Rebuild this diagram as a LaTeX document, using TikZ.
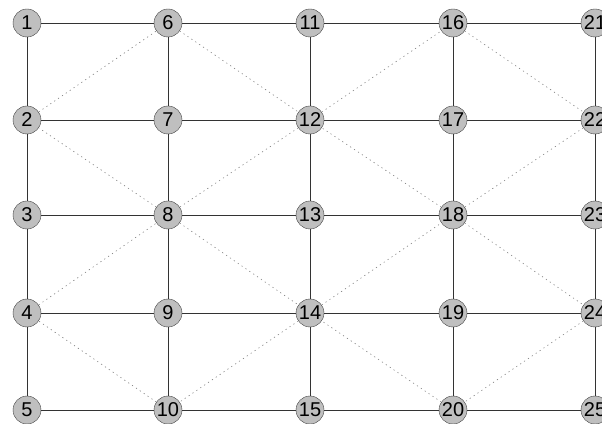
\documentclass[tikz,border=0pt]{standalone}
\usepackage{fontspec}
\setmainfont{Liberation Sans}
\usepackage{tikz}
\usetikzlibrary{arrows.meta, positioning, calc}

\begin{document}
\begin{tikzpicture}[
      x=1pt, y=1pt,
      every node/.style={circle, draw=black!75, fill=gray!50, inner sep=0pt,
        minimum size=28pt, font=\fontsize{20}{20}\selectfont},
      grid/.style={draw=black!80, line width=0.7pt},
      diag/.style={draw=gray, line width=0.6pt, dash pattern=on 1.2pt off 3.5pt}
    ]
      \useasboundingbox (0,0) rectangle (602,423);
      \node (n1) at (27,400) {1};
      \node (n2) at (27,303) {2};
      \node (n3) at (27,208) {3};
      \node (n4) at (27,110) {4};
      \node (n5) at (27,13) {5};
      \node (n6) at (168,400) {6};
      \node (n7) at (168,303) {7};
      \node (n8) at (168,208) {8};
      \node (n9) at (168,110) {9};
      \node (n10) at (168,13) {10};
      \node (n11) at (310,400) {11};
      \node (n12) at (310,303) {12};
      \node (n13) at (310,208) {13};
      \node (n14) at (310,110) {14};
      \node (n15) at (310,13) {15};
      \node (n16) at (453,400) {16};
      \node (n17) at (453,303) {17};
      \node (n18) at (453,208) {18};
      \node (n19) at (453,110) {19};
      \node (n20) at (453,13) {20};
      \node (n21) at (595,400) {21};
      \node (n22) at (595,303) {22};
      \node (n23) at (595,208) {23};
      \node (n24) at (595,110) {24};
      \node (n25) at (595,13) {25};
      % rows
      \draw[grid] (n1) -- (n6) -- (n11) -- (n16) -- (n21);
      \draw[grid] (n2) -- (n7) -- (n12) -- (n17) -- (n22);
      \draw[grid] (n3) -- (n8) -- (n13) -- (n18) -- (n23);
      \draw[grid] (n4) -- (n9) -- (n14) -- (n19) -- (n24);
      \draw[grid] (n5) -- (n10) -- (n15) -- (n20) -- (n25);
      % columns
      \draw[grid] (n1) -- (n2) -- (n3) -- (n4) -- (n5);
      \draw[grid] (n6) -- (n7) -- (n8) -- (n9) -- (n10);
      \draw[grid] (n11) -- (n12) -- (n13) -- (n14) -- (n15);
      \draw[grid] (n16) -- (n17) -- (n18) -- (n19) -- (n20);
      \draw[grid] (n21) -- (n22) -- (n23) -- (n24) -- (n25);
      % diagonals
      \draw[diag] (n2) -- (n6) -- (n12) -- (n8) -- (n2);
      \draw[diag] (n4) -- (n8) -- (n14) -- (n10) -- (n4);
      \draw[diag] (n12) -- (n16) -- (n22) -- (n18) -- (n12);
      \draw[diag] (n14) -- (n18) -- (n24) -- (n20) -- (n14);
    \end{tikzpicture}
\end{document}
